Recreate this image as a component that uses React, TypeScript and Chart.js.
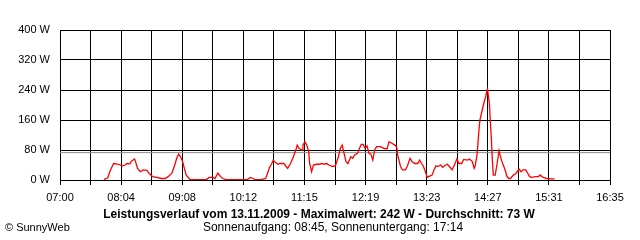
import React, { useEffect, useRef } from "react";
import { Chart, registerables } from "chart.js";

Chart.register(...registerables);

// ---- data ----
const xTickLabels = ["07:00", "08:04", "09:08", "10:12", "11:15", "12:19", "13:23", "14:27", "15:31", "16:35"];
const yTickValues = [0, 80, 160, 240, 320, 400];
const unit = "W";

const sampleTimes = [
  "07:46", "07:50", "07:52", "07:56", "07:59", "08:03", "08:05", "08:08", "08:10", "08:13",
  "08:15", "08:18", "08:19", "08:21", "08:24", "08:27", "08:31", "08:33", "08:37", "08:41",
  "08:46", "08:50", "08:53", "08:57", "09:00", "09:02", "09:04", "09:06", "09:08", "09:10",
  "09:12", "09:16", "09:33", "09:36", "09:40", "09:42", "09:45", "09:48", "09:50", "09:54",
  "10:16", "10:19", "10:22", "10:24", "10:30", "10:35", "10:37", "10:39", "10:41", "10:43",
  "10:45", "10:48", "10:50", "10:54", "10:58", "11:01", "11:04", "11:07", "11:08", "11:10",
  "11:13", "11:14", "11:16", "11:18", "11:20", "11:21", "11:23", "11:25", "11:28", "11:31",
  "11:34", "11:36", "11:39", "11:41", "11:45", "11:48", "11:51", "11:53", "11:55", "11:57",
  "11:59", "12:01", "12:04", "12:06", "12:08", "12:11", "12:13", "12:15", "12:17", "12:19",
  "12:21", "12:23", "12:25", "12:27", "12:29", "12:31", "12:35", "12:39", "12:42", "12:44",
  "12:47", "12:50", "12:52", "12:53", "12:56", "12:58", "13:01", "13:03", "13:06", "13:08",
  "13:11", "13:14", "13:16", "13:18", "13:20", "13:22", "13:24", "13:27", "13:29", "13:31",
  "13:33", "13:35", "13:38", "13:40", "13:43", "13:45", "13:47", "13:50", "13:53", "13:55",
  "13:57", "14:00", "14:02", "14:06", "14:08", "14:11", "14:13", "14:14", "14:16", "14:18",
  "14:19", "14:21", "14:23", "14:25", "14:26", "14:27", "14:29", "14:30", "14:31", "14:32",
  "14:33", "14:35", "14:37", "14:39", "14:40", "14:42", "14:44", "14:46", "14:47", "14:49",
  "14:51", "14:54", "14:56", "14:58", "15:00", "15:02", "15:04", "15:07", "15:09", "15:11",
  "15:13", "15:17", "15:20", "15:22", "15:24", "15:26", "15:29", "15:33", "15:37",
];

const watts = [
  1, 6, 22, 44, 43, 40, 37, 40, 44, 43,
  51, 56, 49, 31, 22, 27, 26, 18, 9, 7,
  4, 4, 9, 18, 40, 58, 69, 62, 51, 31,
  13, 1, 1, 7, 7, 4, 18, 9, 4, 1,
  1, 7, 4, 1, 1, 4, 18, 33, 42, 53,
  47, 42, 44, 44, 31, 44, 62, 84, 93, 84,
  80, 93, 102, 93, 76, 44, 22, 40, 42, 42,
  44, 42, 44, 40, 36, 38, 62, 84, 93, 71,
  49, 44, 62, 58, 67, 71, 84, 95, 95, 84,
  91, 71, 69, 53, 80, 89, 89, 84, 83, 102,
  98, 93, 89, 67, 36, 27, 27, 36, 58, 49,
  44, 44, 53, 44, 36, 22, 7, 11, 13, 27,
  38, 36, 40, 34, 40, 42, 36, 27, 44, 56,
  44, 44, 55, 53, 56, 49, 31, 37, 67, 133,
  160, 182, 204, 222, 235, 242, 200, 151, 107, 53,
  13, 13, 44, 78, 67, 49, 36, 22, 11, 4,
  4, 13, 16, 22, 29, 22, 27, 27, 18, 9,
  7, 9, 9, 13, 9, 6, 4, 3, 3,
];

const averageW = 73;
const maxW = 242;
const reportDate = "13.11.2009";
const sunrise = "08:45";
const sunset = "17:14";

const titleText = `Leistungsverlauf vom ${reportDate} - Maximalwert: ${maxW} ${unit} - Durchschnitt: ${averageW} ${unit}`;
const subtitleText = `Sonnenaufgang: ${sunrise}, Sonnenuntergang: ${sunset}`;
const creditText = "\u00A9 SunnyWeb";

const FONT = "'Liberation Sans', Arial, sans-serif";

const toMin = (t: string) => {
  const [h, m] = t.split(":").map(Number);
  return h * 60 + m;
};

export default function App() {
  const canvasRef = useRef<HTMLCanvasElement | null>(null);

  useEffect(() => {
    document.body.style.margin = "0";
    const canvas = canvasRef.current;
    if (!canvas) return;

    const xStart = toMin(xTickLabels[0]);
    const xEnd = toMin(xTickLabels[xTickLabels.length - 1]);
    const gridCount = (xTickLabels.length - 1) * 2;

    const points = sampleTimes.map((t, i) => ({ x: toMin(t), y: watts[i] }));
    const avgPoints = [
      { x: xStart, y: averageW },
      { x: xEnd, y: averageW },
    ];

    const footerPlugin = {
      id: "footerText",
      afterDraw(chart: any) {
        const ctx = chart.ctx as CanvasRenderingContext2D;
        ctx.save();
        ctx.fillStyle = "#000";
        ctx.textBaseline = "middle";
        ctx.textAlign = "center";
        ctx.font = `bold 12px ${FONT}`;
        ctx.fillText(titleText, 319, 215);
        ctx.font = `12px ${FONT}`;
        ctx.fillText(subtitleText, 333, 228);
        ctx.font = `11px ${FONT}`;
        ctx.textAlign = "left";
        ctx.fillText(creditText, 5, 228);
        ctx.restore();
      },
    };

    const chart = new Chart(canvas, {
      type: "line",
      data: {
        datasets: [
          {
            data: points,
            borderColor: "#ff0000",
            borderWidth: 1.3,
            pointRadius: 0,
            tension: 0,
            fill: false,
          },
          {
            data: avgPoints,
            borderColor: "#8c8c8c",
            borderWidth: 1,
            pointRadius: 0,
            tension: 0,
            fill: false,
          },
        ],
      },
      options: {
        animation: false,
        responsive: false,
        devicePixelRatio: 1,
        parsing: false as any,
        layout: { padding: { top: 30, right: 30, left: 0, bottom: 0 } },
        plugins: {
          legend: { display: false },
          tooltip: { enabled: false },
          title: { display: false },
        },
        scales: {
          x: {
            type: "linear",
            min: xStart,
            max: xEnd,
            afterBuildTicks: (scale: any) => {
              const ticks = [];
              for (let i = 0; i <= gridCount; i++) {
                ticks.push({ value: xStart + (i * (xEnd - xStart)) / gridCount });
              }
              scale.ticks = ticks;
            },
            afterFit: (scale: any) => {
              scale.height = 60;
            },
            grid: {
              color: "#000",
              lineWidth: 1,
              drawTicks: true,
              tickLength: 5,
              tickColor: "#000",
            },
            border: { display: true, color: "#000", width: 1 },
            ticks: {
              autoSkip: false,
              maxRotation: 0,
              minRotation: 0,
              padding: 6,
              color: "#000",
              font: { family: FONT, size: 11 },
              callback: (_v: any, index: number) => (index % 2 === 0 ? xTickLabels[index / 2] : ""),
            },
          },
          y: {
            type: "linear",
            min: yTickValues[0],
            max: yTickValues[yTickValues.length - 1],
            afterBuildTicks: (scale: any) => {
              scale.ticks = yTickValues.map((v) => ({ value: v }));
            },
            afterFit: (scale: any) => {
              scale.width = 60;
            },
            grid: {
              color: "#000",
              lineWidth: 1,
              drawTicks: false,
            },
            border: { display: true, color: "#000", width: 1 },
            ticks: {
              padding: 10,
              color: "#000",
              font: { family: FONT, size: 11 },
              callback: (v: any) => `${v} ${unit}`,
            },
          },
        },
      },
      plugins: [footerPlugin],
    } as any);

    return () => {
      chart.destroy();
    };
  }, []);

  return (
    <div style={{ width: 640, height: 240, background: "#fff" }}>
      <canvas ref={canvasRef} width={640} height={240} style={{ display: "block" }} />
    </div>
  );
}
